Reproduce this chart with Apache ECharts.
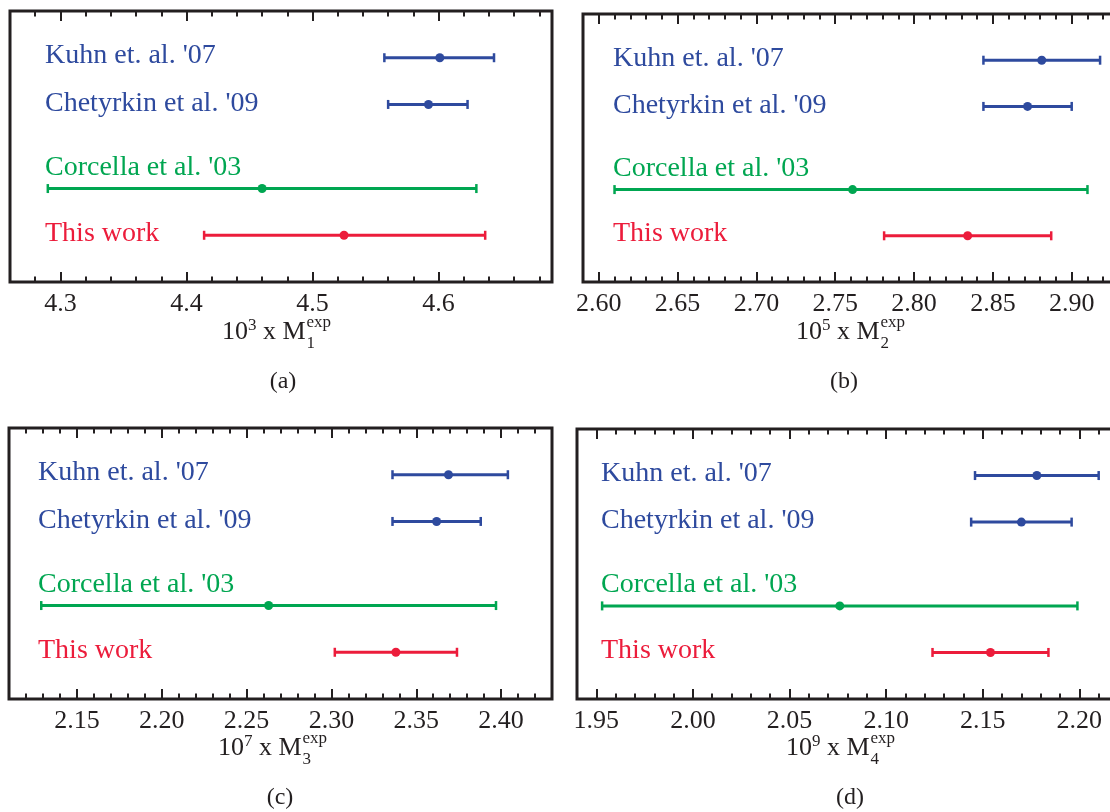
<!DOCTYPE html>
<html>
<head>
<meta charset="utf-8">
<script src="https://cdn.jsdelivr.net/npm/echarts@6/dist/echarts.min.js"></script>
<style>
  html, body { margin: 0; padding: 0; background: #fff; }
  #chart { width: 1110px; height: 812px; }
</style>
</head>
<body>
<div id="chart"></div>
<script>
var rowLabels = ["Kuhn et. al. '07", "Chetyrkin et al. '09", "Corcella et al. '03", "This work"];
var rowPos = [4.8, 3.8, 2.0, 1.0];
var rowColors = ['#2e4a9e', '#2e4a9e', '#00a651', '#ec1c3b'];

// central value, lower end, upper end for each row
var m1Mid = [4.601, 4.592, 4.460, 4.525];
var m1Lo  = [4.557, 4.560, 4.290, 4.414];
var m1Hi  = [4.644, 4.623, 4.630, 4.637];

var m2Mid = [2.881, 2.872, 2.761, 2.834];
var m2Lo  = [2.844, 2.844, 2.610, 2.781];
var m2Hi  = [2.918, 2.900, 2.910, 2.887];

var m3Mid = [2.369, 2.362, 2.263, 2.338];
var m3Lo  = [2.336, 2.336, 2.129, 2.302];
var m3Hi  = [2.404, 2.388, 2.397, 2.374];

var m4Mid = [2.178, 2.170, 2.076, 2.154];
var m4Lo  = [2.146, 2.144, 1.953, 2.124];
var m4Hi  = [2.210, 2.196, 2.199, 2.184];

var m1Ticks = [4.3, 4.4, 4.5, 4.6];
var m2Ticks = [2.60, 2.65, 2.70, 2.75, 2.80, 2.85, 2.90];
var m3Ticks = [2.15, 2.20, 2.25, 2.30, 2.35, 2.40];
var m4Ticks = [1.95, 2.00, 2.05, 2.10, 2.15, 2.20];

var ink = '#231f20';
var serif = '"Liberation Serif", "Times New Roman", serif';

var panels = [
  { mid: m1Mid, lo: m1Lo, hi: m1Hi, ticks: m1Ticks, digits: 1, min: 4.26, max: 4.69, minor: 0.02,
    grid: { left: 10, top: 11, width: 542, height: 271 }, textX: 35,
    power: '3', index: '1', titleX: 276, titleY: 341, caption: '(a)', capX: 283, capY: 382 },
  { mid: m2Mid, lo: m2Lo, hi: m2Hi, ticks: m2Ticks, digits: 2, min: 2.59, max: 2.93, minor: 0.01,
    grid: { left: 583, top: 14, width: 536, height: 268 }, textX: 30,
    power: '5', index: '2', titleX: 850, titleY: 341, caption: '(b)', capX: 844, capY: 382 },
  { mid: m3Mid, lo: m3Lo, hi: m3Hi, ticks: m3Ticks, digits: 2, min: 2.11, max: 2.43, minor: 0.01,
    grid: { left: 9, top: 428, width: 543, height: 271 }, textX: 29,
    power: '7', index: '3', titleX: 272, titleY: 757, caption: '(c)', capX: 280, capY: 798 },
  { mid: m4Mid, lo: m4Lo, hi: m4Hi, ticks: m4Ticks, digits: 2, min: 1.94, max: 2.22, minor: 0.01,
    grid: { left: 577, top: 429, width: 541, height: 270 }, textX: 24,
    power: '9', index: '4', titleX: 840, titleY: 757, caption: '(d)', capX: 850, capY: 798 }
];

var grids = [], xAxes = [], yAxes = [], series = [], graphics = [];

function tickLine(w) { return { color: ink, width: w }; }

panels.forEach(function (p, i) {
  grids.push({
    left: p.grid.left, top: p.grid.top, width: p.grid.width, height: p.grid.height,
    show: true, borderColor: ink, borderWidth: 3, backgroundColor: 'transparent',
    containLabel: false, outerBoundsMode: 'none'
  });

  var fmt = function (v) { return v.toFixed(p.digits); };
  ['bottom', 'top'].forEach(function (pos) {
    // minor ticks
    xAxes.push({
      gridIndex: i, type: 'value', position: pos, min: p.min, max: p.max, interval: p.minor,
      axisLine: { show: false }, splitLine: { show: false },
      axisTick: { inside: true, length: 5.5, lineStyle: tickLine(2) },
      axisLabel: { show: false }
    });
    // major ticks + labels
    xAxes.push({
      gridIndex: i, type: 'value', position: pos, min: p.min, max: p.max,
      axisLine: { show: false }, splitLine: { show: false },
      axisTick: { inside: true, length: 10, customValues: p.ticks, lineStyle: tickLine(2) },
      axisLabel: {
        show: pos === 'bottom', customValues: p.ticks, formatter: fmt, margin: 9,
        color: ink, fontFamily: serif, fontSize: 26
      }
    });
  });

  yAxes.push({ gridIndex: i, type: 'value', min: 0, max: 5.8, show: false });

  var rows = [];
  for (var k = 0; k < rowLabels.length; k++) {
    rows.push([p.lo[k], p.hi[k], p.mid[k], rowPos[k], k]);
  }
  var textDy = [-2, -1, -21, -2];

  series.push({
    type: 'custom',
    xAxisIndex: i * 4,
    yAxisIndex: i,
    data: rows,
    encode: { x: [0, 1, 2], y: 3 },
    clip: false,
    renderItem: function (params, api) {
      var y = api.value(3);
      var lo = api.coord([api.value(0), y]);
      var hi = api.coord([api.value(1), y]);
      var mid = api.coord([api.value(2), y]);
      var k = api.value(4);
      var c = rowColors[k];
      var cap = 4.5;
      return {
        type: 'group',
        children: [
          { type: 'line', shape: { x1: lo[0], y1: lo[1], x2: hi[0], y2: hi[1] }, style: { stroke: c, lineWidth: 3 } },
          { type: 'line', shape: { x1: lo[0], y1: lo[1] - cap, x2: lo[0], y2: lo[1] + cap }, style: { stroke: c, lineWidth: 2.5 } },
          { type: 'line', shape: { x1: hi[0], y1: hi[1] - cap, x2: hi[0], y2: hi[1] + cap }, style: { stroke: c, lineWidth: 2.5 } },
          { type: 'circle', shape: { cx: mid[0], cy: mid[1], r: 4.5 }, style: { fill: c } },
          { type: 'text', x: params.coordSys.x + p.textX, y: lo[1] + textDy[k],
            style: { text: rowLabels[k], fill: c, font: '28px ' + serif, align: 'left', verticalAlign: 'middle' } }
        ]
      };
    }
  });

  // axis title: 10^n x M_i^exp
  var F = 26, s = 17;
  var total = 26 + 8.5 + 26 + 23.1 + 24.5;
  var x0 = p.titleX - total / 2;
  var b = p.titleY;
  var mainFont = F + 'px ' + serif, smallFont = s + 'px ' + serif;
  function t(txt, x, base, font, size) {
    return { type: 'text', x: x, y: base - 0.3375 * size,
      style: { text: txt, font: font, fill: ink, align: 'left', verticalAlign: 'middle' } };
  }
  graphics.push({
    type: 'group', children: [
      t('10', x0, b, mainFont, F),
      t(p.power, x0 + 26, b - 10, smallFont, s),
      t('x', x0 + 41, b, mainFont, F),
      t('M', x0 + 60.5, b, mainFont, F),
      t('exp', x0 + 84.5, b - 13, smallFont, s),
      t(p.index, x0 + 84.5, b + 8, smallFont, s)
    ]
  });
  graphics.push({
    type: 'text', x: p.capX, y: p.capY,
    style: { text: p.caption, font: '24px ' + serif, fill: ink, align: 'center', verticalAlign: 'middle' }
  });
});

var chart = echarts.init(document.getElementById('chart'));
chart.setOption({
  animation: false,
  backgroundColor: '#fff',
  grid: grids,
  xAxis: xAxes,
  yAxis: yAxes,
  series: series,
  graphic: graphics
});
</script>
</body>
</html>
